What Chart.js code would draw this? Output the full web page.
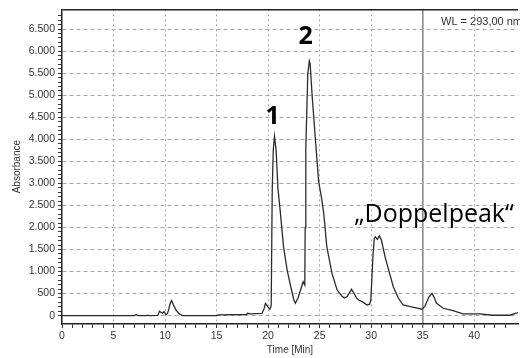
<!DOCTYPE html>
<html>
<head>
<meta charset="utf-8">
<script src="https://cdn.jsdelivr.net/npm/chart.js@4/dist/chart.umd.min.js"></script>
<style>
html,body{margin:0;padding:0;background:#fff;overflow:hidden}
</style>
</head>
<body>
<canvas id="grafico" width="520" height="358"></canvas>
<script>
// Chromatogramm, WL = 293 nm
const tempo = [0,7.0,7.2,7.4,8.2,8.3,8.4,9.3,9.45,9.6,9.76,9.9,10.1,10.25,10.34,10.5,10.63,10.8,11.05,11.37,11.7,
  15.0,15.2,17.9,18.0,18.3,19.4,19.6,19.75,19.98,20.17,20.3,20.4,20.5,20.62,20.78,20.95,21.2,21.5,21.85,22.2,22.5,22.65,22.9,
  23.15,23.4,23.5,23.56,23.6,23.66,23.75,23.85,24.0,24.08,24.27,24.6,24.9,25.2,25.4,25.7,26.2,26.7,27.15,27.4,27.65,27.9,
  28.1,28.35,28.6,28.8,29.25,29.6,29.85,29.97,30.17,30.3,30.4,30.6,30.8,31.0,31.35,31.7,32.15,32.65,33.1,33.8,34.6,34.9,
  35.2,35.6,35.9,36.1,36.35,37.0,37.95,38.9,40.55,41.8,43.45,44.1,44.4];
const absorbancia = [0,0,20,2,2,12,2,5,100,75,55,90,20,55,130,280,340,250,130,40,0,
  0,16,25,54,40,50,150,280,200,145,220,2840,3745,4070,3745,2900,2314,1560,1033,655,355,280,400,
  580,770,720,694,2000,3800,4600,5480,5780,5720,5000,3970,3050,2650,2314,1560,958,580,445,400,430,520,
  597,500,393,355,300,242,260,355,1333,1750,1786,1730,1808,1710,1333,1033,655,393,242,203,167,145,
  203,420,506,420,280,167,113,38,38,9,9,54,80];

const yMin = -190, yMax = 6950;
const xMin = 0, xMax = 44.25;
const marcador = 35;

const rotulos = ["1", "2", "\u201EDoppelpeak\u201C"];
const rotuloTempo = [20.45, 23.65, 36.1];
const rotuloValor = [4355, 6163, 2118];
const rotuloNegrito = [true, true, false];

const milhar = v => String(v).replace(/\B(?=(\d{3})+(?!\d))/g, ".");
const multiplo = (v, m) => Math.abs(v % m) < 1e-6;
const nada = "rgba(0,0,0,0)";
const fonte = "'Liberation Sans', Arial, sans-serif";

const textos = {
  id: "textos",
  afterDraw(c) {
    const ctx = c.ctx, x = c.scales.x, y = c.scales.y;
    ctx.save();
    ctx.fillStyle = "#000";
    ctx.textAlign = "center";
    ctx.textBaseline = "alphabetic";
    rotulos.forEach((t, i) => {
      ctx.font = (rotuloNegrito[i] ? "bold " : "") + "25px 'Open Sans', sans-serif";
      ctx.fillText(t, x.getPixelForValue(rotuloTempo[i]), y.getPixelForValue(rotuloValor[i]));
    });
    ctx.fillStyle = "#333";
    ctx.textAlign = "left";
    ctx.font = "11px " + fonte;
    ctx.fillText("WL = 293,00 nm", c.chartArea.right - 77, c.chartArea.top + 16);
    ctx.restore();
  }
};

new Chart(grafico, {
  type: "line",
  data: {
    datasets: [{
      data: tempo.map((t, i) => ({ x: t, y: absorbancia[i] })),
      borderColor: "#2b2b2b",
      borderWidth: 1.3,
      pointRadius: 0,
      tension: 0
    }]
  },
  options: {
    responsive: false,
    animation: false,
    devicePixelRatio: 1,
    layout: { padding: { top: 8, right: 0, bottom: 0, left: 0 } },
    plugins: { legend: { display: false }, tooltip: { enabled: false } },
    scales: {
      x: {
        type: "linear", min: xMin, max: xMax,
        afterFit: s => { s.height = 34; },
        ticks: {
          stepSize: 1, autoSkip: false, maxRotation: 0, padding: 2, color: "#333",
          font: { family: fonte, size: 10.5 },
          callback: v => multiplo(v, 5) ? v : ""
        },
        grid: {
          color: c => !c.tick || c.tick.value <= 0 || !multiplo(c.tick.value, 5) ? nada : (c.tick.value === marcador ? "#8a8a8a" : "#a8a8a8"),
          lineWidth: c => c.tick && c.tick.value === marcador ? 1.6 : 1,
          tickColor: c => c.tick && multiplo(c.tick.value, 1) ? "#333" : nada,
          tickWidth: 1,
          tickLength: 4
        },
        border: { color: "#222", width: 1.5, dash: c => c.tick && c.tick.value === marcador ? [] : [2, 3] },
        title: { display: true, text: "Time [Min]", color: "#333", font: { family: fonte, size: 10 }, padding: { top: 0, bottom: 2 } }
      },
      y: {
        type: "linear", min: yMin, max: yMax,
        afterFit: s => { s.width = 62; },
        ticks: {
          stepSize: 100, autoSkip: false, padding: 3, color: "#333",
          font: { family: fonte, size: 10.5 },
          callback: v => multiplo(v, 500) ? milhar(v) : ""
        },
        grid: {
          color: c => !c.tick ? nada : (c.tick.value === yMax ? "#222" : (multiplo(c.tick.value, 500) ? "#a8a8a8" : nada)),
          lineWidth: c => c.tick && c.tick.value === yMax ? 1.5 : 1,
          tickColor: c => c.tick && multiplo(c.tick.value, 100) ? "#333" : nada,
          tickWidth: 1,
          tickLength: 4
        },
        border: { color: "#222", width: 1.5, dash: c => c.tick && c.tick.value === yMax ? [] : [4, 3] },
        title: { display: true, text: "Absorbance", color: "#333", font: { family: fonte, size: 10 }, padding: { top: 11, bottom: 0 } }
      }
    }
  },
  plugins: [textos]
});
</script>
</body>
</html>
